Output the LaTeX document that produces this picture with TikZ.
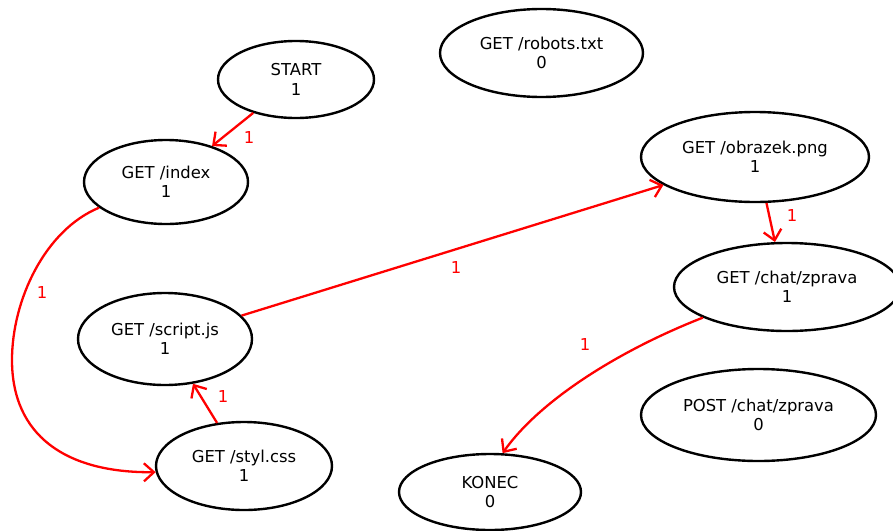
\documentclass[tikz,border=0pt]{standalone}
\usepackage{fontspec}
\setmainfont{DejaVu Sans}
\usetikzlibrary{shapes.geometric,arrows.meta}
\tikzset{
  st/.style={ellipse, draw=black, line width=2.4pt, inner sep=0pt, align=center,
    font=\fontsize{16.4}{19.5}\selectfont},
  tr/.style={draw=red, line width=2.3pt, -{Straight Barb[length=10pt,width=18pt,line width=2.3pt]}},
  lbl/.style={text=red, inner sep=0pt, font=\fontsize{16.4}{19.5}\selectfont},
}
\begin{document}
\begin{tikzpicture}[x=1pt,y=-1pt]
\useasboundingbox (0,0) rectangle (893,530);
\clip (0,0) rectangle (893,530);
\node[st, minimum width=156pt, minimum height=77pt] (start) at (296,79.5) {START\\1};
\node[st, minimum width=203pt, minimum height=88pt] (robots) at (541.5,53) {GET /robots.txt\\0};
\node[st, minimum width=164pt, minimum height=84pt] (index) at (166,182) {GET /index\\1};
\node[st, minimum width=228pt, minimum height=90pt] (obrazek) at (755,157) {GET /obrazek.png\\1};
\node[st, minimum width=226pt, minimum height=88pt] (chat) at (787,287) {GET /chat/zprava\\1};
\node[st, minimum width=174pt, minimum height=92pt] (script) at (165,339) {GET /script.js\\1};
\node[st, minimum width=235pt, minimum height=92pt] (post) at (758.5,415) {POST /chat/zprava\\0};
\node[st, minimum width=176pt, minimum height=88pt] (styl) at (244,466) {GET /styl.css\\1};
\node[st, minimum width=182pt, minimum height=76pt] (konec) at (490,492) {KONEC\\0};

\draw[tr] (start.218.6) -- (index.38);
\draw[tr] (index.201.5) .. controls (45,230) and (12,300) .. (12,360)
  .. controls (12,435) and (65,473) .. (styl.184.5);
\draw[tr] (styl.122.7) -- (script.302.6);
\draw[tr] (script.17) -- (obrazek.197.5);
\draw[tr] (obrazek.284.6) -- (chat.105.3);
\draw[tr] (chat.200.5) .. controls (620,350) and (540,400) .. (konec.72);

\node[lbl] (l1) at (249,138) {1};
\node[lbl] (l2) at (42,293) {1};
\node[lbl] (l3) at (223,397) {1};
\node[lbl] (l4) at (456,268) {1};
\node[lbl] (l5) at (792,216) {1};
\node[lbl] (l6) at (585,345) {1};
\end{tikzpicture}
\end{document}
